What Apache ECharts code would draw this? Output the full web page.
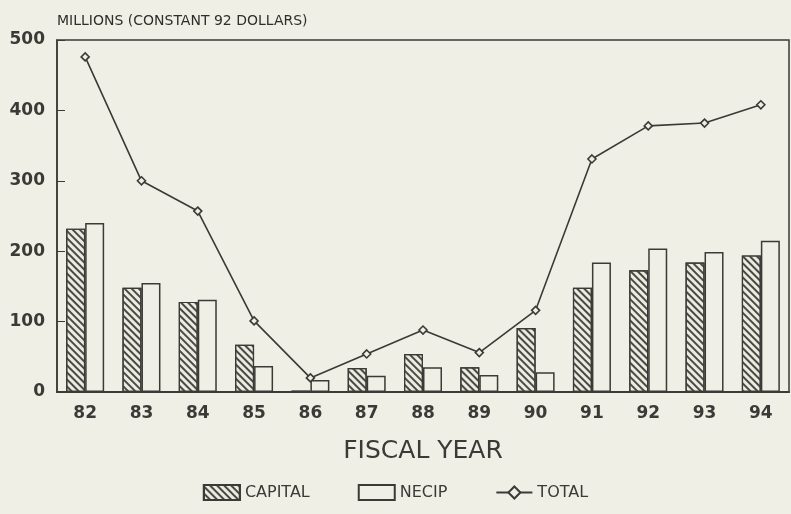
<!DOCTYPE html>
<html>
<head>
<meta charset="utf-8">
<script src="https://cdn.jsdelivr.net/npm/echarts@6/dist/echarts.min.js"></script>
<style>
  html, body { margin: 0; padding: 0; background: #f0efe6; }
  #chart { width: 791px; height: 514px; }
</style>
</head>
<body>
<div id="chart"></div>
<script>
var years = ['82','83','84','85','86','87','88','89','90','91','92','93','94'];
var capital = [232, 148, 128, 67, 2, 34, 54, 35, 91, 148, 173, 184, 194];
var necip = [240, 155, 131, 37, 17, 23, 35, 24, 28, 184, 204, 199, 215];
var total = [476, 300, 257, 101, 20, 54, 88, 56, 116, 331, 378, 382, 408];

var ink = '#3a3a36';
var paper = '#f0efe6';
var font = 'DejaVu Sans';

var chart = echarts.init(document.getElementById('chart'));

var option = {
    backgroundColor: paper,
    animation: false,
    textStyle: { fontFamily: font, color: ink },
    grid: {
        left: 57, right: 2, top: 40, bottom: 122,
        show: true, borderColor: ink, borderWidth: 1.5
    },
    legend: {
        bottom: 8,
        left: 'center',
        itemGap: 48,
        itemWidth: 36,
        itemHeight: 15,
        textStyle: { fontSize: 16, color: ink, fontFamily: font },
        data: [
            { name: 'CAPITAL', icon: 'rect' },
            { name: 'NECIP', icon: 'rect' },
            { name: 'TOTAL' }
        ]
    },
    xAxis: {
        type: 'category',
        data: years,
        name: 'FISCAL YEAR',
        nameLocation: 'middle',
        nameGap: 47,
        nameTextStyle: { fontSize: 25, color: ink, fontFamily: font },
        axisLine: { lineStyle: { color: ink, width: 2 } },
        axisTick: { show: false },
        axisLabel: { fontSize: 17, color: ink, margin: 13, fontWeight: 'bold', fontFamily: font }
    },
    yAxis: {
        type: 'value',
        min: 0, max: 500, interval: 100,
        name: 'MILLIONS (CONSTANT 92 DOLLARS)',
        nameLocation: 'end',
        nameGap: 12,
        nameTextStyle: { fontSize: 14, color: '#2e2e2a', align: 'left', fontFamily: font },
        axisLine: { show: true, lineStyle: { color: ink, width: 1.5 } },
        axisTick: { show: true, inside: true, length: 8, lineStyle: { color: ink } },
        axisLabel: { fontSize: 17, color: ink, margin: 12, fontWeight: 'bold', fontFamily: font },
        splitLine: { show: false }
    },
    series: [
        {
            name: 'CAPITAL',
            type: 'bar',
            data: capital,
            barWidth: 19,
            barGap: '0%',
            itemStyle: {
                color: '#ecebe1',
                borderColor: ink,
                borderWidth: 1.2,
                decal: {
                    symbol: 'rect',
                    color: '#4a4a44',
                    dashArrayX: [1, 0],
                    dashArrayY: [1.2, 3],
                    rotation: Math.PI / 4
                }
            }
        },
        {
            name: 'NECIP',
            type: 'bar',
            data: necip,
            barWidth: 19,
            itemStyle: { color: paper, borderColor: ink, borderWidth: 1.5 }
        },
        {
            name: 'TOTAL',
            type: 'line',
            data: total,
            symbol: 'diamond',
            symbolSize: 8,
            lineStyle: { color: ink, width: 1.6 },
            itemStyle: { color: paper, borderColor: ink, borderWidth: 1.6 }
        }
    ]
};

chart.setOption(option);
</script>
</body>
</html>
